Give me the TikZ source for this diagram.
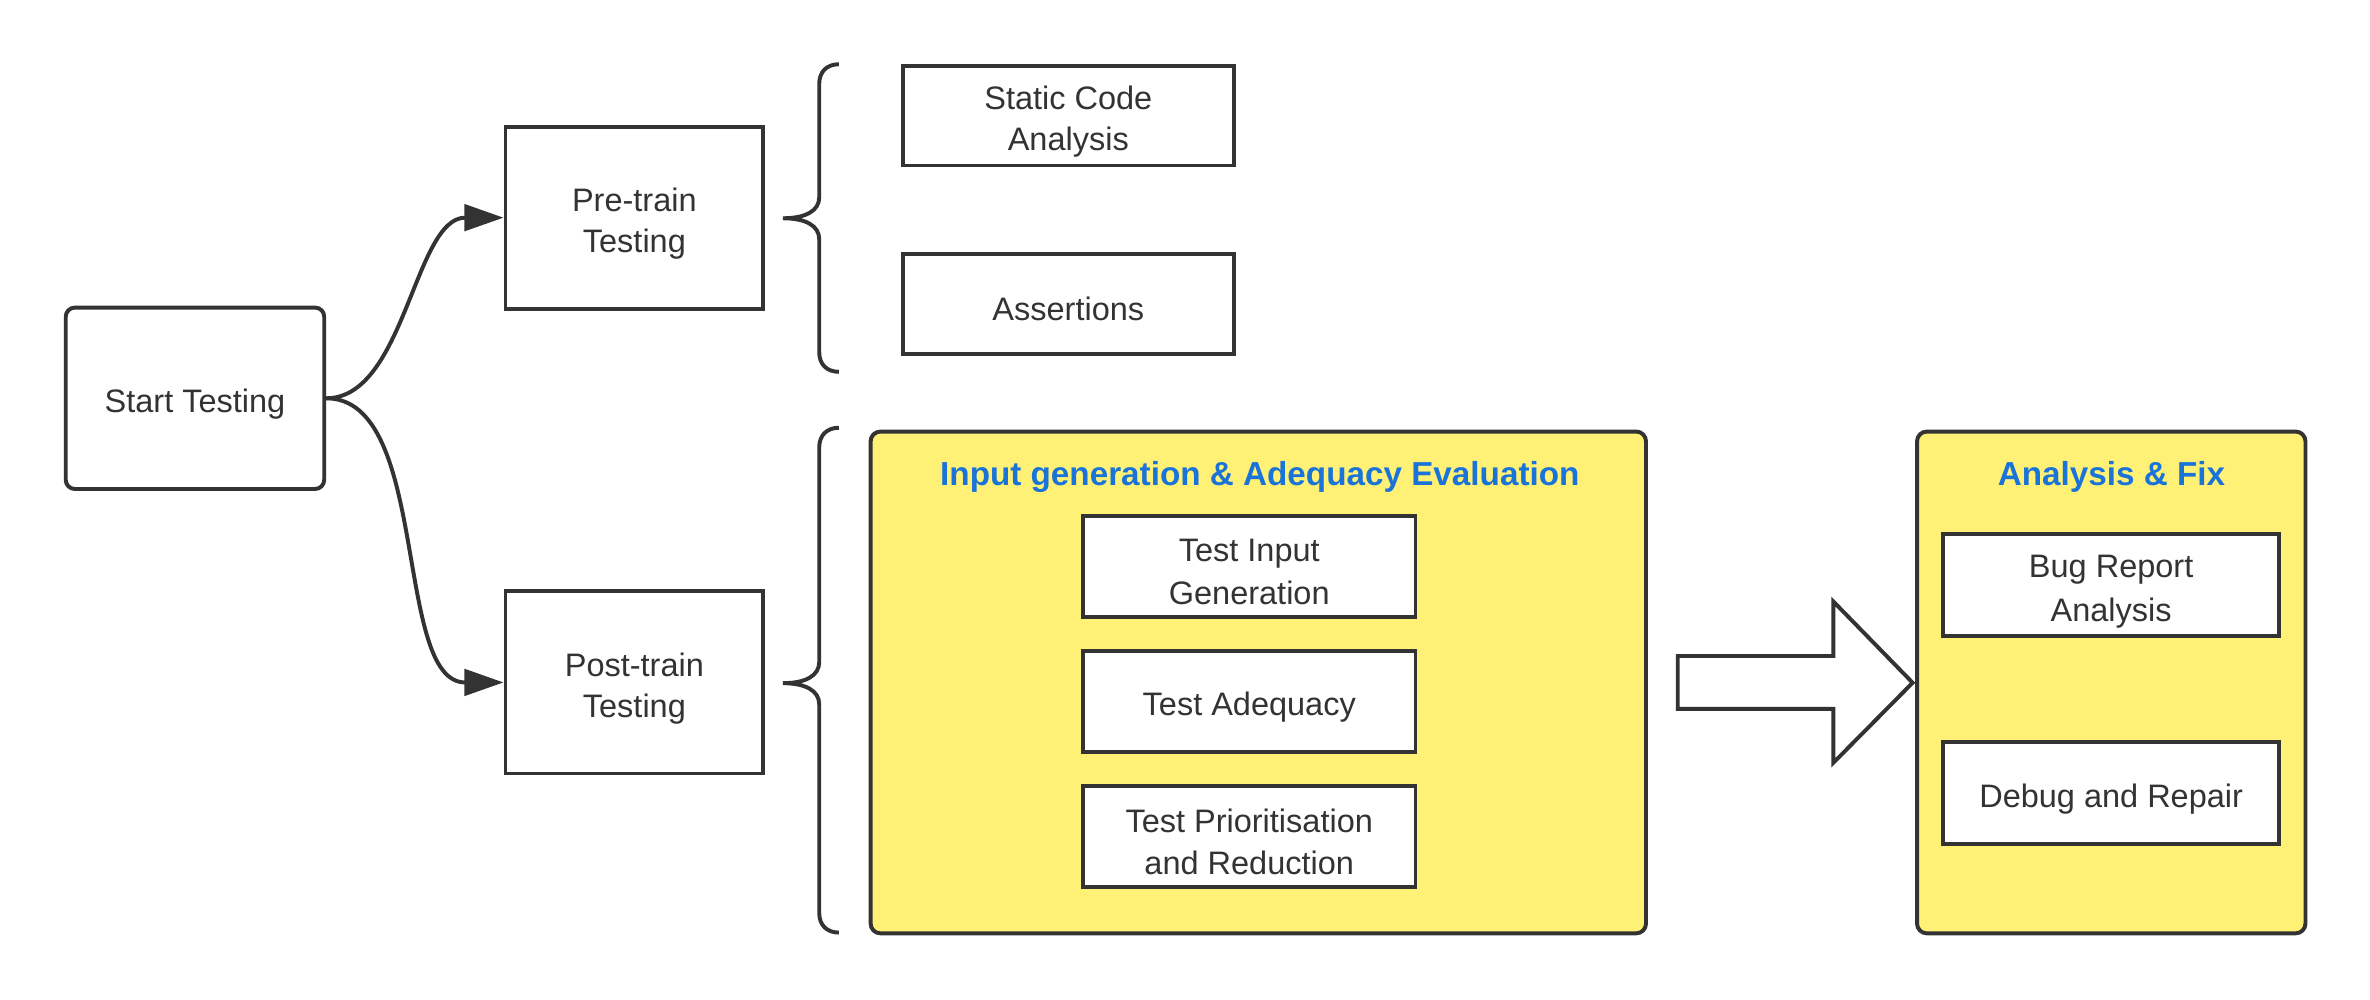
\documentclass[tikz,border=0pt]{standalone}
\usepackage{fontspec}
\setmainfont{Liberation Sans}
\usetikzlibrary{arrows.meta}
\definecolor{ink}{HTML}{333333}
\definecolor{paper}{HTML}{FFF176}
\definecolor{ttlblue}{HTML}{1A73D8}
\newcommand\lnst{\rule[-1.7pt]{0pt}{25.2pt}}
\begin{document}
\begin{tikzpicture}[x=1pt,y=-1pt,
  box/.style={draw=ink, line width=2.6pt, fill=white, align=center, text=ink,
    inner sep=0pt, font=\fontsize{21.5}{27.5}\selectfont},
  panel/.style={draw=ink, line width=2.6pt, fill=paper, rounded corners=6.5pt, inner sep=0pt},
  ttl/.style={text=ttlblue, inner sep=0pt, font=\fontsize{22}{26}\selectfont\bfseries},
  conn/.style={draw=ink, line width=2.6pt, -{Triangle[length=26pt,width=17.5pt]}},
  curlyb/.style={draw=ink, line width=2.6pt},
  blockarrow/.style={draw=ink, line width=2.6pt, fill=white, line join=miter}
]
\useasboundingbox (0,0) rectangle (1568,661.6);

% left column
\node[box, rounded corners=6pt, minimum width=171pt, minimum height=120pt] (start) at (129,263.5) {\lnst Start Testing};
\node[box, minimum width=170.5pt, minimum height=120.5pt] (pre) at (419.7,144) {\lnst Pre-train\\\lnst Testing};
\node[box, minimum width=170.5pt, minimum height=120.5pt] (post) at (419.7,451.5) {\lnst Post-train\\\lnst Testing};

% connectors
\draw[conn] (start.east) .. controls (268,263.5) and (274,144) .. (pre.west);
\draw[conn] (start.east) .. controls (285,263.5) and (260,451.5) .. (post.west);

% braces
\draw[curlyb] (555,42.5) .. controls (547,42.5) and (542,47.5) .. (542,55.5)
  -- (542,130.5) .. controls (542,139.5) and (533,144.4) .. (518,144.4)
  .. controls (533,144.4) and (542,149.3) .. (542,158.3)
  -- (542,233) .. controls (542,241) and (547,246) .. (555,246);
\draw[curlyb] (555,283) .. controls (547,283) and (542,288) .. (542,296)
  -- (542,438) .. controls (542,447) and (533,452) .. (518,452)
  .. controls (533,452) and (542,457) .. (542,466)
  -- (542,604) .. controls (542,612) and (547,617) .. (555,617);

% pre-train items
\node[box, minimum width=219pt, minimum height=66pt] (sca) at (706.8,76.5) {\lnst Static Code\\\lnst Analysis};
\node[box, minimum width=219pt, minimum height=66pt] (asr) at (706.8,201) {\lnst Assertions};

% panels
\node[panel, minimum width=513pt, minimum height=332pt] (ige) at (832.5,451.5) {};
\node[panel, minimum width=257pt, minimum height=332pt] (af) at (1396.8,451.5) {};
\node[ttl, anchor=base] (ige-t) at (833.5,321.5) {Input generation \& Adequacy Evaluation};
\node[ttl, anchor=base] (af-t) at (1397,321.5) {Analysis \& Fix};

\node[box, minimum width=220pt, minimum height=67pt] (tig) at (826.5,374.75) {\lnst Test Input\\\lnst Generation};
\node[box, minimum width=220pt, minimum height=67pt] (tad) at (826.5,464) {\lnst Test Adequacy};
\node[box, minimum width=220pt, minimum height=67pt] (tpr) at (826.5,553.6) {\lnst Test Prioritisation\\\lnst and Reduction};

\node[box, minimum width=222pt, minimum height=67.5pt] (bra) at (1396.75,387.1) {\lnst Bug Report\\\lnst Analysis};
\node[box, minimum width=222pt, minimum height=67.5pt] (dar) at (1396.75,524.5) {\lnst Debug and Repair};

% block arrow
\draw[blockarrow] (1110,434) -- (1213,434) -- (1213,398) -- (1265.4,451.7)
  -- (1213,504.6) -- (1213,469) -- (1110,469) -- cycle;
\end{tikzpicture}
\end{document}
